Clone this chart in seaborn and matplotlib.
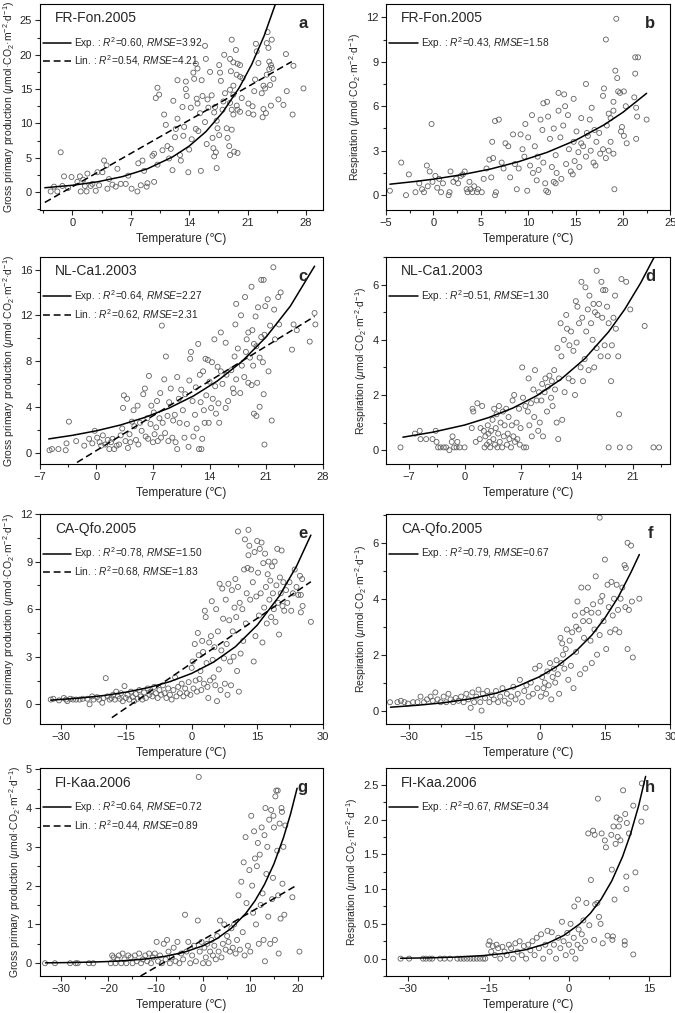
"""
Temperature response of GPP and respiration at four flux sites
"""

import matplotlib
matplotlib.use('Agg')
import matplotlib.pyplot as plt
import seaborn as sns
import pandas as pd
from matplotlib.lines import Line2D
from matplotlib.ticker import AutoMinorLocator, FormatStrFormatter

# ---------------- data ----------------
# a: FR-Fon.2005 GPP
a_points = [
    (-2.6, 0.1), (-2.2, 0.8), (-1.8, 0.1), (-1.4, 5.8), (-1.2, 0.9), (-1.0, 2.3), (-0.5, 0.6),
    (-0.1, 2.2), (0.6, 1.5), (0.9, 2.3), (1.0, 0.1), (1.3, 1.8), (1.5, 0.9), (1.7, 0.1),
    (1.8, 2.7), (2.2, 0.9), (2.4, 1.2), (2.8, 0.2), (3.0, 2.9), (3.2, 1.0), (3.6, 2.9),
    (3.8, 4.6), (4.1, 3.9), (4.2, 0.5), (4.4, 1.9), (4.8, 1.1), (5.2, 0.8), (5.4, 3.4),
    (5.8, 1.2), (6.4, 1.2), (6.7, 2.4), (7.1, 0.5), (7.8, 0.1), (7.9, 4.2), (8.2, 1.0),
    (8.4, 4.6), (8.6, 3.1), (8.9, 0.8), (9.0, 1.3), (9.6, 5.3), (9.8, 1.5), (10.2, 4.0),
    (9.8, 5.6), (10.0, 13.7), (10.2, 15.2), (10.4, 14.2), (10.8, 6.1), (11.0, 11.3),
    (11.2, 9.8), (11.4, 6.7), (11.6, 4.9), (11.8, 6.3), (12.0, 3.2), (12.1, 13.3), (12.3, 8.0),
    (12.4, 9.2), (12.6, 10.7), (12.6, 16.3), (12.9, 5.4), (13.0, 4.6), (13.2, 12.4),
    (13.3, 8.2), (13.4, 9.5), (13.6, 15.0), (13.6, 16.1), (13.7, 14.0), (13.9, 2.9),
    (14.0, 6.2), (14.2, 12.3), (14.3, 7.7), (14.5, 17.4), (14.6, 16.5), (14.8, 9.2),
    (14.9, 13.6), (15.0, 12.9), (15.1, 8.9), (14.8, 18.7), (15.0, 18.0), (15.3, 11.5),
    (15.5, 16.3), (15.6, 14.0), (15.4, 3.1), (15.9, 10.2), (16.1, 7.0), (16.2, 13.5),
    (16.3, 12.3), (16.0, 19.4), (16.5, 17.5), (15.9, 21.3), (16.7, 14.1), (16.8, 7.9),
    (17.0, 11.6), (17.1, 12.4), (17.3, 10.4), (17.4, 9.3), (16.9, 6.4), (17.6, 8.3),
    (17.2, 5.8), (17.8, 16.2), (17.0, 5.2), (18.0, 12.0), (18.1, 13.2), (17.6, 18.5),
    (18.3, 14.4), (17.3, 3.5), (18.2, 20.0), (17.7, 17.4),
    (19.1, 22.2), (19.6, 20.7), (18.9, 19.4), (19.3, 18.9), (19.8, 18.7), (20.1, 18.5),
    (19.0, 17.6), (19.7, 17.1), (20.1, 16.8), (20.4, 16.6), (19.3, 15.5), (18.9, 14.9),
    (19.3, 14.2), (20.3, 13.7), (19.7, 12.6), (19.1, 12.0), (19.8, 12.0), (20.1, 11.7),
    (18.9, 13.0), (18.5, 9.3), (19.1, 9.1), (18.6, 7.9), (18.8, 6.7), (19.4, 5.9),
    (19.8, 5.7), (18.9, 5.4), (19.3, 11.3),
    (22.0, 21.6), (22.1, 20.5), (22.3, 18.8), (21.9, 16.4), (22.9, 15.5), (22.7, 14.4),
    (21.8, 14.7), (21.1, 12.9), (21.6, 12.5), (21.1, 11.5), (21.7, 11.3), (23.4, 23.3),
    (23.3, 21.7), (23.5, 21.0), (23.9, 22.2), (23.6, 19.0), (23.8, 18.5), (23.6, 17.9),
    (23.9, 18.1), (23.3, 17.1), (24.1, 16.5), (23.7, 15.6), (23.1, 15.1), (23.8, 12.6),
    (22.9, 12.1), (23.2, 11.5), (22.8, 10.9), (24.7, 13.5), (25.3, 12.7), (25.7, 14.7),
    (25.6, 20.1), (26.5, 18.4), (26.4, 11.3), (27.7, 15.1),
]
a_exp_temp = [-3.3, 0, 3, 6, 9, 12, 14, 16, 18, 20, 21.5, 23, 24.4]
a_exp_gpp = [0.64, 1.0, 1.50, 2.26, 3.40, 5.12, 6.7, 8.8, 11.6, 15.2, 18.6, 22.8, 27.6]
a_lin_temp = [-3.3, 26.3]
a_lin_gpp = [-1.5, 19.0]

# b: FR-Fon.2005 respiration
b_points = [
    (-4.6, 0.3), (-3.4, 2.2), (-2.9, 0.0), (-2.6, 1.4), (-1.9, 0.2), (-1.5, 0.8), (-1.2, 0.4),
    (-1.0, 0.2), (-0.7, 2.0), (-0.6, 0.6), (-0.4, 1.6), (-0.2, 4.8), (-0.1, 0.9), (0.2, 1.3),
    (0.4, 0.5), (0.6, 1.1), (0.8, 0.2), (1.0, 0.8), (1.6, 0.0), (1.7, 0.2), (1.8, 1.6),
    (2.1, 0.9), (2.4, 1.1), (2.6, 0.8), (2.9, 1.3), (3.1, 1.4), (3.3, 1.6), (3.5, 0.4),
    (3.6, 0.2), (3.8, 0.9), (3.9, 0.4), (4.1, 0.2), (4.3, 0.6), (4.6, 0.2), (4.7, 0.4),
    (5.1, 0.2), (5.3, 1.1), (5.6, 1.8), (5.9, 2.4), (6.1, 1.2), (6.3, 2.5), (6.5, 0.0),
    (6.2, 3.6), (6.6, 0.2), (6.5, 5.0), (6.9, 5.1), (7.2, 2.2), (7.4, 1.8), (7.6, 3.5),
    (7.9, 3.3), (8.1, 1.2), (8.4, 4.1), (8.6, 2.1), (8.8, 0.4), (9.0, 1.8), (9.2, 4.1),
    (9.4, 3.1), (9.6, 2.6), (9.7, 4.8), (9.9, 0.3), (10.0, 3.9), (10.2, 2.0), (10.4, 5.4),
    (10.5, 1.5), (10.7, 3.3), (10.9, 1.0), (11.0, 2.6), (11.3, 5.1), (11.5, 4.4), (11.6, 2.2),
    (11.8, 0.8), (11.9, 0.3), (11.6, 6.2), (12.1, 5.3), (12.3, 3.8), (12.5, 1.9), (12.0, 6.3),
    (12.7, 4.5), (12.9, 2.7), (12.1, 0.2), (13.2, 5.7), (13.4, 3.9), (13.5, 1.1), (13.7, 4.7),
    (12.9, 0.8), (14.0, 2.1), (13.2, 6.9), (14.2, 5.4), (14.3, 3.1), (14.5, 1.6), (13.9, 6.0),
    (14.8, 3.6), (14.9, 2.3), (13.8, 6.8), (15.1, 4.3), (15.3, 2.9), (14.7, 1.4), (15.6, 5.2),
    (15.8, 3.3), (14.8, 6.5), (16.1, 2.6), (16.3, 4.0), (15.4, 1.9), (16.6, 3.0), (16.5, 5.1),
    (16.9, 2.2), (16.1, 7.5), (17.2, 3.6), (17.0, 4.4), (17.6, 2.8), (16.7, 5.9), (17.9, 3.1),
    (16.2, 4.2), (17.1, 2.0), (15.6, 3.5), (12.7, 0.9), (11.1, 1.7), (13.0, 1.5),
    (18.2, 10.5), (19.3, 11.9), (19.2, 8.4), (19.4, 7.9), (19.5, 7.0), (19.7, 6.9),
    (20.1, 7.0), (19.0, 6.3), (19.0, 5.7), (18.5, 5.5), (18.7, 5.2), (18.3, 4.7),
    (20.3, 6.0), (19.9, 4.6), (19.8, 4.3), (20.1, 4.0), (20.4, 3.5), (18.7, 3.6),
    (18.5, 3.0), (19.0, 2.8), (18.2, 2.5), (19.1, 0.4), (21.2, 6.6), (21.3, 8.2),
    (21.3, 9.3), (21.6, 9.3), (21.4, 5.9), (21.5, 5.3), (21.4, 3.8), (22.5, 5.1),
    (18.0, 7.2), (17.9, 6.7), (17.5, 4.2),
]
b_exp_temp = [-4.6, -2, 0, 3, 6, 9, 12, 15, 18, 20, 22.5]
b_exp_resp = [0.74, 0.92, 1.08, 1.38, 1.76, 2.26, 2.89, 3.70, 4.74, 5.59, 6.87]

# c: NL-Ca1.2003 GPP
c_points = [
    (-5.8, 0.2), (-5.5, 0.3), (-4.7, 0.3), (-3.8, 0.2), (-3.7, 0.8), (-3.4, 2.7), (-2.5, 1.0),
    (-1.5, 0.6), (-0.9, 1.2), (-0.5, 0.8), (-0.2, 1.9), (0.1, 1.3), (0.4, 0.9), (0.6, 0.6),
    (0.8, 1.5), (1.1, 0.7), (1.4, 1.1), (1.6, 0.3), (1.8, 0.9), (2.0, 1.2), (2.2, 0.3),
    (2.5, 0.6), (2.8, 0.7), (3.0, 1.5), (3.2, 2.1), (3.3, 3.9), (3.4, 5.0), (3.6, 1.0),
    (3.8, 4.7), (3.9, 0.4), (4.1, 1.6), (4.2, 0.9), (4.4, 2.7), (4.6, 3.7), (4.7, 2.3),
    (4.9, 1.1), (5.1, 4.1), (5.2, 0.7), (5.4, 2.6), (5.6, 1.9), (5.8, 5.1), (6.0, 5.6),
    (6.1, 1.4), (6.3, 3.0), (6.4, 1.2), (6.5, 6.7), (6.7, 2.5), (6.8, 4.1), (7.0, 0.9),
    (7.1, 3.5), (7.2, 1.6), (7.4, 2.2), (7.5, 4.5), (7.6, 1.0), (7.8, 3.0), (7.9, 5.2),
    (8.0, 1.3), (8.1, 11.1), (8.2, 2.6), (8.4, 6.4), (8.5, 1.7), (8.6, 8.4), (8.8, 3.2),
    (8.9, 1.0), (9.0, 4.4), (9.2, 5.6), (9.4, 1.3), (9.5, 2.8), (9.7, 3.3), (9.8, 0.9),
    (10.0, 6.6), (10.0, 0.3), (10.2, 4.7), (10.3, 2.6), (10.5, 5.5), (10.7, 3.7), (10.9, 1.3),
    (11.0, 5.1), (11.2, 2.5), (11.4, 0.5), (11.5, 6.3), (11.6, 8.2), (11.7, 8.8), (11.9, 4.5),
    (12.0, 1.4), (12.2, 3.3), (12.3, 5.7), (12.4, 2.1), (12.6, 9.5), (12.7, 0.3), (12.8, 6.8),
    (12.9, 4.4), (13.0, 0.3), (13.1, 1.2), (13.2, 7.1), (13.3, 3.7), (13.4, 2.6), (13.5, 8.2),
    (13.6, 5.0), (13.8, 8.1), (13.9, 2.6), (14.0, 6.2), (14.2, 3.9), (14.3, 7.9), (14.4, 4.7),
    (14.6, 9.9), (14.7, 5.8), (14.8, 3.4), (15.0, 7.5), (15.1, 4.3), (15.2, 2.6), (15.4, 7.1),
    (15.6, 6.0), (15.4, 10.5), (16.0, 3.9), (16.1, 6.8), (16.3, 4.5), (16.0, 9.6), (16.7, 7.2),
    (16.9, 5.6), (17.1, 8.4), (17.3, 6.4), (17.5, 9.1), (17.2, 11.2), (17.0, 5.2), (18.0, 7.6),
    (17.3, 13.0), (18.3, 6.6), (18.5, 8.8), (17.9, 12.0), (17.8, 5.2), (18.6, 9.9), (18.8, 6.1),
    (18.4, 13.6), (19.0, 8.3), (18.8, 10.5), (19.2, 5.9), (19.4, 7.6), (19.3, 10.7), (19.5, 3.4),
    (19.5, 9.5), (19.2, 14.5), (19.7, 11.9), (19.8, 3.2), (19.9, 6.1), (19.8, 9.3), (20.0, 12.7),
    (20.2, 8.3), (20.2, 4.0), (20.4, 10.1), (20.4, 15.1), (20.6, 7.9), (20.7, 5.1), (20.8, 10.3),
    (20.8, 0.7), (20.9, 12.8), (21.2, 13.4), (21.3, 7.1), (21.5, 11.1), (21.7, 2.8), (21.9, 16.2),
    (22.0, 12.5), (22.5, 13.6), (22.1, 9.9), (22.8, 14.0), (22.6, 11.2), (24.2, 9.0),
    (24.8, 10.7), (24.4, 11.2), (26.4, 9.7), (27.0, 12.2), (27.1, 11.2), (20.7, 15.1),
]
c_exp_temp = [-5.9, -3, 0, 3, 6, 9, 12, 15, 18, 21, 24, 27]
c_exp_gpp = [1.19, 1.50, 1.90, 2.41, 3.07, 3.89, 4.94, 6.27, 7.96, 10.1, 12.8, 16.3]
c_lin_temp = [-2.4, 27.0]
c_lin_gpp = [-0.87, 11.9]

# d: NL-Ca1.2003 respiration
d_points = [
    (-8.0, 0.1), (-6.2, 0.6), (-5.6, 0.7), (-5.5, 0.4), (-4.8, 0.4), (-4.0, 0.4), (-3.6, 0.7),
    (-3.5, 0.3), (-3.3, 0.1), (-3.0, 0.1), (-2.6, 0.1), (-2.3, 0.1), (-1.9, 0.0), (-1.6, 0.3),
    (-1.5, 0.5), (-1.3, 0.1), (-1.0, 0.1), (-0.9, 0.3), (-0.6, 0.1), (0.0, 0.1), (0.9, 0.8),
    (1.0, 1.5), (1.1, 1.4), (1.4, 0.3), (1.6, 1.7), (1.9, 0.4), (2.0, 0.8), (2.2, 1.6),
    (2.4, 0.7), (2.5, 0.1), (2.6, 0.5), (2.8, 0.2), (2.9, 0.9), (3.0, 0.6), (3.1, 0.3),
    (3.2, 0.1), (3.3, 0.7), (3.5, 1.1), (3.6, 0.4), (3.7, 1.5), (3.8, 0.2), (3.9, 0.8),
    (4.0, 1.3), (4.1, 0.1), (4.2, 0.6), (4.3, 1.6), (4.4, 0.3), (4.5, 1.0), (4.7, 0.1),
    (4.8, 1.4), (4.9, 0.5), (5.0, 0.9), (5.2, 1.5), (5.3, 0.2), (5.4, 0.6), (5.5, 1.2),
    (5.6, 0.4), (5.8, 0.1), (5.9, 0.9), (6.0, 1.8), (6.1, 0.5), (6.2, 2.0), (6.3, 0.3),
    (6.5, 1.0), (6.6, 0.4), (6.8, 1.5), (6.9, 0.2), (7.0, 0.8), (7.2, 3.0), (7.3, 1.9),
    (7.4, 0.1), (7.6, 1.6), (7.7, 0.1), (7.9, 1.4), (8.0, 2.6), (8.1, 0.9), (8.3, 1.7),
    (8.4, 0.5), (8.6, 2.2), (8.7, 1.2), (8.8, 2.9), (9.0, 1.8), (9.2, 0.7), (9.3, 2.1),
    (9.4, 1.0), (9.6, 1.8), (9.7, 2.4), (9.8, 0.5), (10.0, 2.1), (10.1, 2.6), (10.3, 1.4),
    (10.4, 2.3), (10.6, 2.7), (10.8, 1.9), (10.9, 2.5), (11.0, 1.6), (11.2, 2.9), (11.3, 2.2),
    (11.5, 1.0), (11.6, 3.7), (11.7, 0.4), (11.8, 2.6), (12.0, 4.6), (12.1, 3.4), (12.2, 1.1),
    (12.4, 4.0), (12.5, 2.1), (12.7, 4.9), (12.8, 4.4), (13.0, 2.6), (13.1, 3.8), (13.3, 4.3),
    (13.5, 2.5), (13.6, 3.6), (13.8, 2.0), (13.9, 5.4), (14.0, 3.9), (14.1, 5.2), (14.3, 4.6),
    (14.5, 3.0), (14.6, 6.1), (14.7, 4.8), (14.8, 2.5), (15.0, 3.3), (15.1, 5.9), (15.2, 4.3),
    (15.4, 5.1), (15.5, 2.9), (15.6, 5.6), (15.8, 4.6), (16.0, 4.0), (16.1, 5.3), (16.2, 3.0),
    (16.3, 5.0), (16.5, 3.7), (16.6, 4.9), (16.8, 5.3), (17.0, 3.4), (16.5, 6.5), (17.2, 4.8),
    (17.3, 5.8), (17.5, 3.8), (17.1, 6.1), (17.8, 5.2), (17.9, 3.4), (18.0, 4.6), (17.6, 5.8),
    (18.3, 2.5), (18.4, 3.8), (18.0, 0.1), (18.6, 4.8), (18.8, 5.6), (19.2, 3.4), (19.4, 0.1),
    (19.6, 6.2), (20.2, 6.1), (20.6, 0.1), (20.7, 5.1), (22.5, 4.5), (23.6, 0.1), (24.3, 0.1),
    (19.3, 1.3), (18.9, 4.4),
]
d_exp_temp = [-7.7, -4, 0, 3, 6, 9, 12, 15, 18, 20, 22, 23.7]
d_exp_resp = [0.47, 0.65, 0.91, 1.18, 1.52, 1.97, 2.56, 3.31, 4.29, 5.10, 6.06, 7.0]

# e: CA-Qfo.2005 GPP
e_points = [
    (-32.3, 0.3), (-31.7, 0.35), (-30.4, 0.25), (-29.3, 0.4), (-28.8, 0.3), (-28.5, 0.2),
    (-27.8, 0.35), (-27.2, 0.3), (-26.5, 0.3), (-25.7, 0.3), (-25.0, 0.35), (-23.9, 0.35),
    (-23.4, 0.0), (-22.8, 0.5), (-22.5, 0.3), (-21.7, 0.45), (-21.2, 0.3), (-20.5, 0.1),
    (-20.2, 0.4), (-19.7, 1.65), (-19.3, 0.5), (-18.8, 0.3), (-18.4, 0.4), (-18.0, 0.6),
    (-17.6, 0.3), (-17.3, 0.8), (-16.9, 0.5), (-16.5, 0.35), (-16.2, 0.7), (-15.8, 0.2),
    (-15.4, 1.15), (-15.1, 0.4), (-14.7, 0.6), (-14.3, 0.3), (-13.9, 0.8), (-13.5, 0.45),
    (-13.2, 0.2), (-12.8, 0.65), (-12.4, 0.35), (-12.0, 0.9), (-11.7, 0.5), (-11.3, 0.3),
    (-10.9, 0.75), (-10.5, 0.4), (-10.1, 1.0), (-9.7, 0.6), (-9.4, 0.8), (-9.0, 0.5),
    (-8.6, 1.1), (-8.2, 0.7), (-7.8, 0.4), (-7.4, 0.9), (-7.0, 0.6), (-6.6, 1.2), (-6.2, 0.7),
    (-5.8, 0.4), (-5.4, 1.0), (-5.0, 0.6), (-4.6, 0.3), (-4.2, 0.9), (-3.8, 1.7), (-3.5, 0.5),
    (-3.1, 1.1), (-2.7, 0.7), (-2.3, 1.3), (-1.9, 0.5), (-1.5, 1.0), (-1.1, 0.7), (-0.7, 1.4),
    (-0.3, 0.6), (0.0, 2.3), (0.2, 2.7), (0.4, 1.0), (0.7, 3.8), (0.9, 1.5), (1.2, 0.8),
    (1.4, 4.5), (1.6, 3.1), (1.8, 1.6), (2.0, 2.1), (2.2, 0.9), (2.4, 4.0), (2.6, 3.3),
    (2.8, 1.3), (3.0, 5.9), (3.2, 5.5), (3.4, 2.6), (3.6, 1.1), (3.8, 0.4), (4.0, 3.9),
    (4.2, 1.5), (4.4, 4.3), (4.6, 6.5), (4.8, 2.8), (5.0, 1.7), (5.2, 3.6), (5.4, 1.2),
    (5.6, 6.0), (5.8, 0.2), (6.0, 4.6), (6.2, 2.2), (6.4, 7.6), (6.6, 0.9), (6.8, 3.4),
    (7.0, 7.3), (7.2, 5.4), (7.4, 2.9), (7.6, 1.3), (7.8, 6.6), (8.0, 3.8), (8.2, 0.6),
    (8.4, 7.6), (8.6, 5.3), (8.8, 2.7), (9.0, 1.2), (9.2, 7.2), (9.4, 4.6), (9.6, 3.0),
    (9.8, 6.1), (10.0, 7.9), (10.2, 5.5), (10.4, 2.1), (10.6, 7.4), (10.8, 0.8), (11.0, 6.4),
    (11.2, 3.2), (10.6, 10.9), (11.6, 6.0), (11.8, 4.0), (12.0, 8.5), (12.2, 10.4), (12.4, 5.1),
    (12.6, 7.0), (12.8, 8.6), (13.0, 9.4), (13.2, 10.0), (13.4, 6.6), (13.6, 8.5), (13.0, 11.0),
    (14.0, 7.7), (14.2, 2.7), (14.4, 9.6), (14.6, 4.3), (14.8, 6.8), (15.0, 10.3), (15.2, 8.3),
    (15.4, 5.6), (15.6, 9.8), (15.8, 7.0), (16.0, 10.2), (16.2, 3.9), (16.4, 8.9), (16.6, 6.1),
    (16.8, 9.5), (17.0, 7.4), (17.2, 5.1), (17.4, 8.2), (17.6, 9.0), (17.8, 6.6), (18.0, 7.8),
    (18.2, 5.5), (18.4, 8.7), (18.6, 7.0), (18.8, 6.0), (19.0, 9.0), (19.2, 5.2), (19.4, 7.5),
    (19.6, 9.8), (19.8, 6.4), (20.0, 4.4), (20.2, 8.0), (20.4, 7.0), (20.6, 9.7), (20.8, 6.2),
    (21.0, 7.7), (21.2, 5.9), (21.6, 7.2), (21.9, 6.4), (22.4, 7.7), (22.8, 5.9), (23.2, 7.0),
    (23.6, 8.5), (24.0, 7.4), (24.4, 6.9), (24.8, 8.1), (25.0, 5.8), (25.4, 6.2), (25.3, 7.9),
    (25.0, 6.9), (27.3, 5.2),
]
e_exp_temp = [-32.3, -25, -20, -15, -10, -5, 0, 5, 10, 15, 20, 24, 27.3]
e_exp_gpp = [0.26, 0.41, 0.56, 0.77, 1.05, 1.43, 1.95, 2.66, 3.63, 4.99, 6.8, 8.7, 10.67]
e_lin_temp = [-18.3, 27.3]
e_lin_gpp = [-0.84, 7.73]

# f: CA-Qfo.2005 respiration
f_points = [
    (-34.3, 0.3), (-32.6, 0.3), (-31.8, 0.35), (-31.0, 0.3), (-30.2, 0.25), (-29.0, 0.3),
    (-28.0, 0.3), (-27.3, 0.5), (-26.5, 0.3), (-25.8, 0.4), (-25.0, 0.5), (-24.5, 0.35),
    (-23.9, 0.65), (-23.4, 0.4), (-22.7, 0.3), (-22.0, 0.5), (-21.4, 0.3), (-20.9, 0.6),
    (-20.4, 0.4), (-19.8, 0.3), (-19.2, 0.45), (-18.6, 0.35), (-18.0, 0.5), (-17.4, 0.3),
    (-16.8, 0.6), (-16.3, 0.4), (-15.8, 0.1), (-15.4, 0.65), (-15.0, 0.3), (-14.5, 0.5),
    (-14.0, 0.75), (-13.6, 0.3), (-13.3, 0.0), (-13.0, 0.6), (-12.5, 0.45), (-12.0, 0.7),
    (-11.5, 0.3), (-11.0, 0.55), (-10.5, 0.4), (-10.0, 0.7), (-9.5, 0.3), (-9.0, 0.5),
    (-8.5, 0.8), (-8.0, 0.35), (-7.5, 0.6), (-7.0, 0.25), (-6.5, 0.5), (-6.0, 0.85),
    (-5.5, 0.4), (-5.0, 0.6), (-4.5, 1.1), (-4.0, 0.3), (-3.5, 0.7), (-3.0, 0.9), (-2.5, 0.5),
    (-2.0, 1.0), (-1.5, 0.6), (-1.0, 1.5), (-0.5, 0.8), (0.0, 1.6), (0.3, 0.5), (0.6, 1.2),
    (0.9, 0.8), (1.2, 1.0), (1.5, 0.6), (1.8, 1.4), (2.1, 0.9), (2.4, 1.7), (2.7, 0.4),
    (3.0, 1.2), (3.3, 1.5), (3.6, 1.0), (3.9, 1.8), (4.2, 1.3), (4.5, 0.6), (4.8, 2.6),
    (5.0, 1.7), (5.2, 2.4), (5.4, 2.0), (5.7, 1.5), (6.0, 2.2), (6.3, 2.9), (6.6, 1.1),
    (6.9, 2.5), (7.2, 1.6), (7.5, 2.8), (7.8, 0.8), (8.1, 3.4), (8.4, 2.1), (8.7, 3.9),
    (9.0, 2.9), (9.3, 1.3), (9.6, 4.4), (9.9, 3.5), (10.2, 2.6), (10.5, 1.5), (10.8, 3.6),
    (11.1, 4.4), (11.4, 3.2), (11.7, 2.5), (12.0, 1.7), (12.3, 3.8), (12.6, 2.9), (12.9, 4.8),
    (13.2, 2.0), (13.5, 3.5), (13.8, 2.7), (13.8, 6.9), (14.4, 4.1), (14.7, 3.2), (15.0, 5.4),
    (15.3, 2.2), (15.6, 4.5), (15.9, 3.7), (16.2, 2.8), (16.5, 4.6), (16.8, 3.4), (17.1, 4.0),
    (17.4, 2.9), (17.7, 4.5), (18.0, 3.6), (18.3, 2.8), (18.6, 4.0), (19.5, 5.2), (19.0, 4.4),
    (19.7, 3.7), (19.8, 5.1), (20.2, 2.2), (20.2, 6.0), (20.5, 3.6), (21.0, 5.9), (21.2, 3.9),
    (21.4, 1.9), (22.9, 4.0), (8.4, 3.0), (10.0, 3.2), (11.9, 3.5), (14.0, 3.9),
]
f_exp_temp = [-34.2, -28, -22, -16, -10, -5, 0, 4, 8, 12, 15, 18, 21, 22.9]
f_exp_resp = [0.12, 0.19, 0.28, 0.416, 0.62, 0.87, 1.21, 1.58, 2.07, 2.70, 3.31, 4.04, 4.95, 5.58]

# g: FI-Kaa.2006 GPP
g_points = [
    (-33.4, 0.0), (-31.3, 0.0), (-28.1, 0.0), (-26.9, 0.0), (-26.5, 0.0), (-24.1, 0.0),
    (-23.2, 0.0), (-19.5, 0.0), (-19.2, 0.2), (-18.9, 0.15), (-18.5, 0.0), (-18.1, 0.1),
    (-17.8, 0.2), (-17.3, 0.0), (-17.0, 0.25), (-16.6, 0.1), (-16.2, 0.0), (-15.8, 0.2),
    (-15.3, 0.15), (-14.9, 0.0), (-14.4, 0.2), (-14.0, 0.05), (-13.5, 0.25), (-13.1, 0.0),
    (-12.7, 0.1), (-12.2, 0.2), (-11.8, 0.05), (-11.4, 0.25), (-11.0, 0.0), (-10.6, 0.15),
    (-10.2, 0.25), (-9.8, 0.55), (-9.5, 0.05), (-9.1, 0.2), (-8.7, 0.0), (-8.3, 0.5),
    (-7.9, 0.1), (-7.6, 0.6), (-7.3, 0.3), (-7.0, 0.0), (-6.6, 0.15), (-6.2, 0.4),
    (-5.8, 0.05), (-5.4, 0.55), (-5.0, 0.0), (-4.6, 0.25), (-4.2, 0.1), (-3.8, 1.25),
    (-3.5, 0.3), (-3.1, 0.55), (-2.7, 0.0), (-2.3, 0.2), (-1.9, 0.45), (-1.5, 0.05),
    (-1.1, 1.1), (-0.9, 4.8), (-0.7, 0.3), (-0.3, 0.55), (0.0, 0.0), (0.3, 0.4), (0.6, 0.15),
    (0.9, 0.5), (1.2, 0.0), (1.5, 0.3), (1.8, 0.6), (2.1, 0.2), (2.4, 0.45), (2.7, 0.1),
    (3.0, 0.7), (3.3, 0.3), (3.6, 1.1), (3.9, 0.15), (4.2, 0.5), (4.5, 1.0), (4.8, 0.35),
    (5.1, 0.7), (5.4, 0.55), (5.7, 0.3), (6.0, 0.9), (6.3, 0.4), (6.6, 1.0), (6.9, 0.25),
    (7.2, 0.6), (7.5, 1.75), (7.8, 0.35), (8.1, 2.1), (8.4, 0.8), (8.6, 2.6), (8.8, 0.2),
    (9.0, 3.25), (9.2, 1.55), (9.5, 0.45), (9.8, 2.4), (10.0, 0.3), (10.2, 3.8), (10.4, 2.0),
    (10.6, 1.3), (10.8, 3.4), (11.0, 2.7), (11.2, 1.0), (11.4, 2.5), (11.6, 3.1), (11.8, 0.5),
    (12.0, 2.8), (12.2, 1.5), (12.4, 3.5), (12.6, 1.8), (12.8, 0.6), (13.0, 3.3), (13.1, 0.05),
    (13.2, 4.0), (13.4, 2.3), (13.6, 3.0), (13.8, 1.2), (14.0, 3.7), (14.2, 0.5), (14.4, 3.95),
    (14.6, 1.65), (14.8, 2.2), (15.0, 3.5), (15.2, 0.6), (15.3, 4.3), (15.5, 4.45), (15.7, 2.9),
    (15.9, 1.75), (16.0, 0.25), (16.2, 3.6), (16.4, 1.15), (16.6, 4.0), (16.8, 2.05),
    (17.0, 3.0), (17.2, 1.25), (17.4, 3.55), (18.9, 1.7), (20.4, 0.3), (15.8, 4.45),
    (16.7, 3.9), (14.9, 3.8),
]
g_exp_temp = [-33.3, -28, -24, -20, -16, -12, -8, -4, 0, 3, 6, 9, 11, 13, 15, 17, 18.5, 19.9]
g_exp_gpp = [0.0095, 0.0176, 0.028, 0.044, 0.070, 0.112, 0.178, 0.283, 0.45, 0.637, 0.902,
             1.277, 1.61, 2.03, 2.56, 3.23, 3.84, 4.51]
g_lin_temp = [-13.2, 19.7]
g_lin_gpp = [-0.33, 2.0]

# h: FI-Kaa.2006 respiration
h_points = [
    (-31.4, 0.0), (-29.8, 0.0), (-27.2, 0.0), (-26.7, 0.0), (-26.0, 0.0), (-25.5, 0.0),
    (-24.0, 0.0), (-23.2, 0.0), (-22.2, 0.0), (-20.8, 0.0), (-20.2, 0.0), (-19.6, 0.0),
    (-19.0, 0.0), (-18.4, 0.0), (-17.8, 0.0), (-17.2, 0.0), (-16.6, 0.0), (-16.0, 0.0),
    (-15.6, 0.0), (-15.0, 0.2), (-14.8, 0.25), (-14.5, 0.1), (-14.2, 0.18), (-13.8, 0.05),
    (-13.5, 0.2), (-13.2, 0.15), (-12.8, 0.0), (-12.4, 0.17), (-12.0, 0.1), (-11.6, 0.05),
    (-11.2, 0.2), (-10.8, 0.15), (-10.4, 0.0), (-10.0, 0.22), (-9.6, 0.1), (-9.2, 0.25),
    (-8.8, 0.05), (-8.4, 0.18), (-8.0, 0.0), (-7.6, 0.2), (-7.2, 0.12), (-6.8, 0.25),
    (-6.4, 0.05), (-6.0, 0.3), (-5.6, 0.15), (-5.2, 0.35), (-4.8, 0.0), (-4.4, 0.2),
    (-4.0, 0.4), (-3.6, 0.1), (-3.2, 0.38), (-2.8, 0.2), (-2.4, 0.0), (-2.0, 0.3),
    (-1.6, 0.15), (-1.3, 0.53), (-1.0, 0.25), (-0.6, 0.05), (-0.3, 0.37), (0.0, 0.2),
    (0.3, 0.5), (0.6, 0.1), (0.9, 0.3), (1.2, 0.0), (1.0, 0.75), (1.6, 0.2), (1.8, 0.42),
    (1.7, 0.85), (2.2, 0.15), (2.4, 0.35), (2.7, 0.55), (3.0, 0.25), (3.25, 0.8), (3.6, 1.8),
    (3.8, 0.48), (4.1, 1.13), (5.3, 0.8), (4.5, 1.84), (4.7, 0.27), (4.9, 0.78), (4.8, 1.78),
    (5.6, 0.6), (5.9, 0.5), (6.1, 1.8), (6.3, 0.22), (6.7, 1.7), (5.4, 2.3), (6.9, 1.6),
    (7.2, 0.33), (7.9, 1.78), (8.0, 1.28), (8.1, 0.27), (8.3, 1.9), (8.5, 0.85), (8.7, 1.65),
    (8.9, 2.03), (9.1, 1.75), (9.3, 1.9), (9.6, 1.7), (10.1, 2.42), (10.4, 0.25), (10.7, 1.18),
    (10.7, 1.0), (10.5, 2.08), (10.8, 1.95), (11.2, 1.8), (12.0, 2.2), (12.0, 0.06), (12.4, 1.24),
    (13.5, 1.97), (13.6, 2.52), (14.3, 2.17), (10.4, 0.2), (9.5, 2.0), (8.2, 0.32),
]
h_exp_temp = [-31.4, -26, -21, -16, -12, -8, -4, -1, 2, 4, 6, 8, 10, 11.5, 13, 14.3]
h_exp_resp = [0.0055, 0.0114, 0.0223, 0.0438, 0.075, 0.129, 0.221, 0.332, 0.498, 0.652,
              0.854, 1.119, 1.466, 1.795, 2.197, 2.62]

site_names = ['FR-Fon.2005', 'FR-Fon.2005', 'NL-Ca1.2003', 'NL-Ca1.2003',
              'CA-Qfo.2005', 'CA-Qfo.2005', 'FI-Kaa.2006', 'FI-Kaa.2006']
panel_letters = ['a', 'b', 'c', 'd', 'e', 'f', 'g', 'h']
exp_r2 = ['0.60', '0.43', '0.64', '0.51', '0.78', '0.79', '0.64', '0.67']
exp_rmse = ['3.92', '1.58', '2.27', '1.30', '1.50', '0.67', '0.72', '0.34']
lin_r2 = ['0.54', None, '0.62', None, '0.68', None, '0.44', None]
lin_rmse = ['4.21', None, '2.31', None, '1.83', None, '0.89', None]

x_ticks = [[0, 7, 14, 21, 28], [-5, 0, 5, 10, 15, 20, 25], [-7, 0, 7, 14, 21, 28],
           [-7, 0, 7, 14, 21], [-30, -15, 0, 15, 30], [-30, -15, 0, 15, 30],
           [-30, -20, -10, 0, 10, 20], [-30, -15, 0, 15]]
y_ticks = [[0, 5, 10, 15, 20, 25], [0, 3, 6, 9, 12], [0, 4, 8, 12, 16], [0, 2, 4, 6],
           [0, 3, 6, 9, 12], [0, 2, 4, 6], [0, 1, 2, 3, 4, 5], [0, 0.5, 1.0, 1.5, 2.0, 2.5]]
x_lims = [(-3.9, 30), (-5, 25), (-7, 28), (-9.8, 25.7), (-34.8, 30), (-35.2, 30),
          (-34.5, 25.3), (-34.1, 18.9)]
y_lims = [(-2.6, 27.4), (-1, 12.9), (-1, 17.1), (-0.5, 7.0), (-1.24, 12), (-0.48, 7.03),
          (-0.33, 5.03), (-0.25, 2.74)]

# ---------------- style ----------------
sns.set_theme(style='ticks')
plt.rcParams['font.family'] = ['Liberation Sans', 'DejaVu Sans']
plt.rcParams['mathtext.fontset'] = 'custom'
plt.rcParams['mathtext.rm'] = 'Liberation Sans'
plt.rcParams['mathtext.it'] = 'Liberation Sans:italic'
plt.rcParams['mathtext.bf'] = 'Liberation Sans:bold'
plt.rcParams['axes.linewidth'] = 0.8

GPP_LABEL = r'Gross primary production ($\mu$mol·CO$_2$·m$^{-2}$·d$^{-1}$)'
RESP_LABEL = r'Respiration ($\mu$mol·CO$_2$·m$^{-2}$·d$^{-1}$)'

# axes rectangles in figure fractions (left, bottom, width, height)
col_left = [0.059, 0.572]
col_width = [0.419, 0.421]
row_bottom = [0.7927, 0.5420, 0.2853, 0.0365]
row_height = [0.2034, 0.2043, 0.2073, 0.2053]

point_sets = [a_points, b_points, c_points, d_points, e_points, f_points, g_points, h_points]
exp_curves = [(a_exp_temp, a_exp_gpp), (b_exp_temp, b_exp_resp), (c_exp_temp, c_exp_gpp),
              (d_exp_temp, d_exp_resp), (e_exp_temp, e_exp_gpp), (f_exp_temp, f_exp_resp),
              (g_exp_temp, g_exp_gpp), (h_exp_temp, h_exp_resp)]
lin_curves = [(a_lin_temp, a_lin_gpp), None, (c_lin_temp, c_lin_gpp), None,
              (e_lin_temp, e_lin_gpp), None, (g_lin_temp, g_lin_gpp), None]

DASH = (0, (4.5, 2.5))

fig = plt.figure(figsize=(6.75, 10.13), dpi=100)

for i in range(8):
    row, col = divmod(i, 2)
    ax = fig.add_axes([col_left[col], row_bottom[row], col_width[col], row_height[row]])

    df = pd.DataFrame(point_sets[i], columns=['temp', 'flux'])
    sns.scatterplot(data=df, x='temp', y='flux', ax=ax, marker='o', s=13,
                    facecolor='none', edgecolor='0.38', linewidth=0.6, legend=False, zorder=2)

    exp_t, exp_v = exp_curves[i]
    sns.lineplot(x=exp_t, y=exp_v, ax=ax, color='black', lw=1.1,
                 estimator=None, sort=False, zorder=3)
    handles = [Line2D([], [], color='black', lw=1.1)]
    labels = [r'Exp. : $R^2$=%s, $RMSE$=%s' % (exp_r2[i], exp_rmse[i])]
    if lin_curves[i] is not None:
        lin_t, lin_v = lin_curves[i]
        sns.lineplot(x=lin_t, y=lin_v, ax=ax, color='black', lw=1.1, linestyle=DASH,
                     estimator=None, sort=False, zorder=3)
        handles.append(Line2D([], [], color='black', lw=1.1, linestyle=DASH))
        labels.append(r'Lin. : $R^2$=%s, $RMSE$=%s' % (lin_r2[i], lin_rmse[i]))

    ax.set_xlim(*x_lims[i])
    ax.set_ylim(*y_lims[i])
    ax.set_xticks(x_ticks[i])
    ax.set_yticks(y_ticks[i])
    if i == 7:
        ax.yaxis.set_major_formatter(FormatStrFormatter('%.1f'))
    ax.xaxis.set_minor_locator(AutoMinorLocator(2))
    ax.yaxis.set_minor_locator(AutoMinorLocator(2))
    ax.tick_params(which='both', direction='out', top=False, right=False,
                   width=0.8, labelsize=8, pad=2)
    ax.tick_params(which='major', length=3.5)
    ax.tick_params(which='minor', length=2)
    for sp in ax.spines.values():
        sp.set_visible(True)
        sp.set_color('black')

    ax.set_xlabel('Temperature (℃)', fontsize=8.5, labelpad=4)
    ax.set_ylabel(GPP_LABEL if col == 0 else RESP_LABEL, fontsize=7.5, labelpad=2)

    ax.text(0.053, 0.93, site_names[i], transform=ax.transAxes, fontsize=10,
            ha='left', va='center')
    ax.text(0.93, 0.905, panel_letters[i], transform=ax.transAxes, fontsize=12,
            fontweight='bold', ha='center', va='center')
    ax.legend(handles, labels, loc='upper left', bbox_to_anchor=(0.0, 0.865),
              frameon=False, fontsize=7.3, handlelength=2.8, handletextpad=0.3,
              labelspacing=0.3, borderaxespad=0.1, borderpad=0.2)

fig.savefig('out.png', dpi=100, facecolor='white')
